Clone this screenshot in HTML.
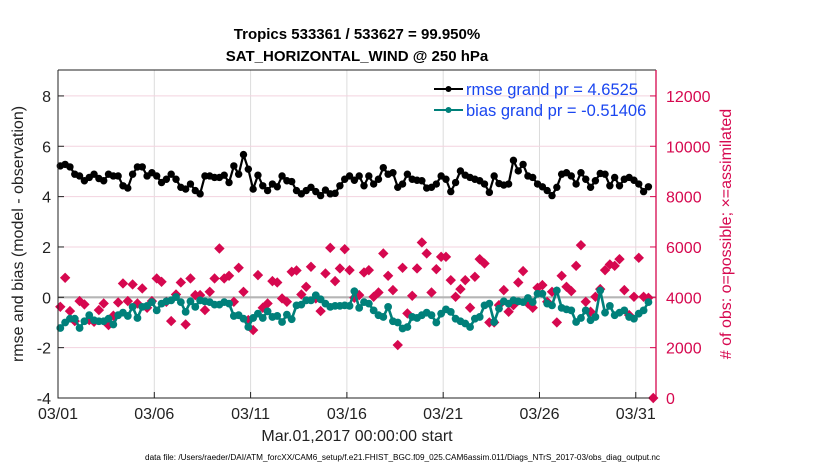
<!DOCTYPE html>
<html><head><meta charset="utf-8"><style>
body{margin:0;background:#fff;width:830px;height:470px;overflow:hidden;font-family:"Liberation Sans",Arial,sans-serif}
svg{display:block}
</style></head><body>
<svg id="chart" width="830" height="470" xmlns="http://www.w3.org/2000/svg" font-family="Liberation Sans, Arial, sans-serif"></svg>
<script>
const dayTicks = [0,5,10,15,20,25,30];
const dayLabels = ["03/01","03/06","03/11","03/16","03/21","03/26","03/31"];
const leftTicks = [-4,-2,0,2,4,6,8];
const rightTicks = [0,2000,4000,6000,8000,10000,12000];
const rmse = [5.22,5.28,5.18,4.89,4.82,4.63,4.76,4.89,4.72,4.63,4.89,4.82,4.82,4.43,4.34,4.89,5.18,5.18,4.82,4.95,4.82,4.56,4.69,4.89,4.69,4.37,4.30,4.50,4.24,4.11,4.82,4.82,4.76,4.76,4.85,4.56,5.22,4.89,5.67,5.09,4.30,4.85,4.43,4.24,4.50,4.39,4.82,4.63,4.60,4.24,4.11,4.24,4.37,4.20,4.04,4.26,4.11,4.13,4.43,4.69,4.82,4.65,4.82,
4.43,4.82,4.50,4.69,5.15,4.89,4.95,4.37,4.50,4.89,4.69,4.65,4.63,4.34,4.37,4.50,4.82,4.69,4.20,4.56,5.02,4.85,4.76,4.69,4.63,4.50,4.17,4.82,4.52,4.46,4.50,5.44,5.02,5.28,4.82,4.76,4.50,4.39,4.24,4.04,4.37,4.89,4.95,4.82,4.50,4.95,4.69,4.37,4.63,4.92,4.89,4.43,4.76,4.43,4.69,4.76,4.65,4.50,4.20,4.39];
const bias = [-1.22,-1.00,-0.85,-0.85,-1.22,-0.95,-0.71,-0.91,-0.95,-0.95,-0.85,-1.08,-0.71,-0.61,-0.74,-0.38,-0.82,-0.38,-0.34,-0.19,-0.52,-0.25,-0.16,-0.12,0.01,-0.19,-0.58,-0.16,-0.38,-0.12,-0.16,-0.19,-0.29,-0.29,-0.19,-0.25,-0.74,-0.71,-0.85,-1.18,-0.82,-0.65,-0.82,-0.56,-0.78,-0.74,-0.98,-0.69,-0.87,-0.32,-0.29,-0.12,-0.12,0.08,-0.08,-0.25,-0.38,-0.34,-0.34,-0.32,-0.34,0.24,-0.42,
-0.19,-0.25,-0.52,-0.71,-0.78,-0.38,-0.95,-1.00,-1.24,-1.18,-0.78,-0.82,-0.71,-0.61,-0.71,-1.00,-0.65,-0.48,-0.58,-0.85,-0.95,-1.04,-1.18,-0.85,-0.78,-0.32,-0.25,-0.98,-0.45,-0.16,-0.25,-0.12,-0.16,-0.19,-0.03,-0.19,0.14,0.14,-0.25,-0.32,0.27,-0.42,-0.48,-0.52,-0.98,-0.82,-0.52,-0.91,-0.78,0.27,-0.61,-0.34,-0.71,-0.61,-0.52,-0.78,-0.85,-0.65,-0.52,-0.19];
const nobs = [3624,4775,3452,3055,3849,3717,3095,3029,3492,3756,2897,3267,3796,4550,3849,4510,3756,4352,3585,3849,4749,4616,3823,3055,4114,4590,2923,4749,4087,4087,3492,4220,4749,5939,4749,4854,3823,5172,4220,3095,2698,4881,3585,3756,4643,4590,3955,3823,5013,5066,4114,4418,5212,3955,3452,4947,5966,4643,5145,5912,5079,3981,
4087,4987,5079,4020,4193,5741,4854,4285,2103,5172,3360,4061,5145,6178,5741,4193,5119,5608,5608,4682,4020,4325,4682,3585,4815,5516,5344,3003,3003,3690,4285,3426,3690,4590,5040,3756,3585,4378,4484,3823,4220,3003,4854,4418,4246,5251,6071,3823,3426,4020,4325,5079,5304,5251,5516,4285,3293,4020,5569,4020,3981,0];

const X0=58,X1=656,Y0=70,Y1=398;
const xs=d=>X0+(d/31.05)*(X1-X0);
const yL=v=>Y1-(v+4)/13.03*(Y1-Y0);
const yR=c=>Y1-c/13030*(Y1-Y0);
const tOf=i=>0.12+0.2503*i;
const svg=document.getElementById('chart');
const NS='http://www.w3.org/2000/svg';
function mk(tag,attrs,parent){const e=document.createElementNS(NS,tag);for(const k in attrs)e.setAttribute(k,attrs[k]);(parent||svg).appendChild(e);return e;}
function txt(s,attrs){const e=mk('text',attrs);e.textContent=s;return e;}

dayTicks.forEach((d,i)=>{const l=mk('line',{x1:xs(d),x2:xs(d),y1:Y0,y2:Y1,stroke:'#dcdcdc','stroke-width':1});

});
leftTicks.forEach(v=>{const l=mk('line',{x1:X0,x2:X1,y1:yL(v),y2:yL(v),stroke:'#f3d3df','stroke-width':1});

});
const zl=mk('line',{x1:X0,x2:X1,y1:yL(0),y2:yL(0),stroke:'#b5b5b5','stroke-width':2.2});



nobs.forEach((c,i)=>{const x=xs(tOf(i)),y=yR(c),r=5.2;
const p=mk('polygon',{points:`${x},${y-r} ${x+r},${y} ${x},${y+r} ${x-r},${y}`,fill:'#d6084f'});

});

function series(vals,color,name,w,r){
 const pts=vals.map((v,i)=>xs(tOf(i)).toFixed(1)+','+yL(v).toFixed(1)).join(' ');
 const pl=mk('polyline',{points:pts,fill:'none',stroke:color,'stroke-width':w});
 
 
 vals.forEach((v,i)=>{const c=mk('circle',{cx:xs(tOf(i)),cy:yL(v),r:r,fill:color});
 
 });
}
series(bias,'#00807a','bias',2.6,3.9);
series(rmse,'#000','rmse',2.2,3.7);

const ax=mk('path',{d:`M${X0},${Y0}H${X1}M${X0},${Y0}V${Y1}H${X1}`,stroke:'#222',fill:'none','stroke-width':1});


const ra=mk('line',{x1:X1,x2:X1,y1:Y0,y2:Y1,stroke:'#d6084f','stroke-width':1.3});



dayTicks.forEach((d,i)=>{mk('line',{x1:xs(d),x2:xs(d),y1:Y1,y2:Y1-6,stroke:'#222'});
 const t=txt(dayLabels[i],{x:xs(d),y:Y1+21,'font-size':16,'text-anchor':'middle',fill:'#222'});
 
 });
leftTicks.forEach(v=>{mk('line',{x1:X0,x2:X0+6,y1:yL(v),y2:yL(v),stroke:'#222'});
 const t=txt(String(v),{x:X0-7,y:yL(v)+6,'font-size':16,'text-anchor':'end',fill:'#222'});
 
 });
rightTicks.forEach(v=>{mk('line',{x1:X1,x2:X1-6,y1:yR(v),y2:yR(v),stroke:'#d6084f'});
 const t=txt(String(v),{x:X1+10,y:yR(v)+6,'font-size':16,fill:'#d6084f'});
 
 });

const t1=txt('Tropics 533361 / 533627 = 99.950%',{x:357,y:39,'font-size':15,'font-weight':'bold','text-anchor':'middle',fill:'#000'});


const t2=txt('SAT_HORIZONTAL_WIND @ 250 hPa',{x:357,y:61,'font-size':15,'font-weight':'bold','text-anchor':'middle',fill:'#000'});


const xt=txt('Mar.01,2017 00:00:00 start',{x:357,y:441,'font-size':16,'text-anchor':'middle',fill:'#222'});


const yt=txt('rmse and bias (model - observation)',{x:0,y:0,'font-size':16,'text-anchor':'middle',fill:'#222',transform:`translate(23,${(Y0+Y1)/2}) rotate(-90)`});


const yt2=txt('# of obs: o=possible; \u00d7=assimilated',{x:0,y:0,'font-size':16,'text-anchor':'middle',fill:'#d6084f',transform:`translate(731,${(Y0+Y1)/2}) rotate(-90)`});


const df=txt('data file: /Users/raeder/DAI/ATM_forcXX/CAM6_setup/f.e21.FHIST_BGC.f09_025.CAM6assim.011/Diags_NTrS_2017-03/obs_diag_output.nc',{x:145,y:460,'font-size':8,fill:'#000',textLength:515,lengthAdjust:'spacingAndGlyphs'});



function legend(y,color,label,name){
 const g=mk('g',{});
 
 
 mk('line',{x1:434,x2:463,y1:y,y2:y,stroke:color,'stroke-width':2},g);
 mk('circle',{cx:448.5,cy:y,r:3,fill:color},g);
 const t=mk('text',{x:466,y:y+6,'font-size':16.5,fill:'#1a46f0'},g);t.textContent=label;
}
legend(89,'#000','rmse grand pr = 4.6525','legend-rmse');
legend(110,'#00807a','bias grand pr = -0.51406','legend-bias');
</script>
</body></html>
